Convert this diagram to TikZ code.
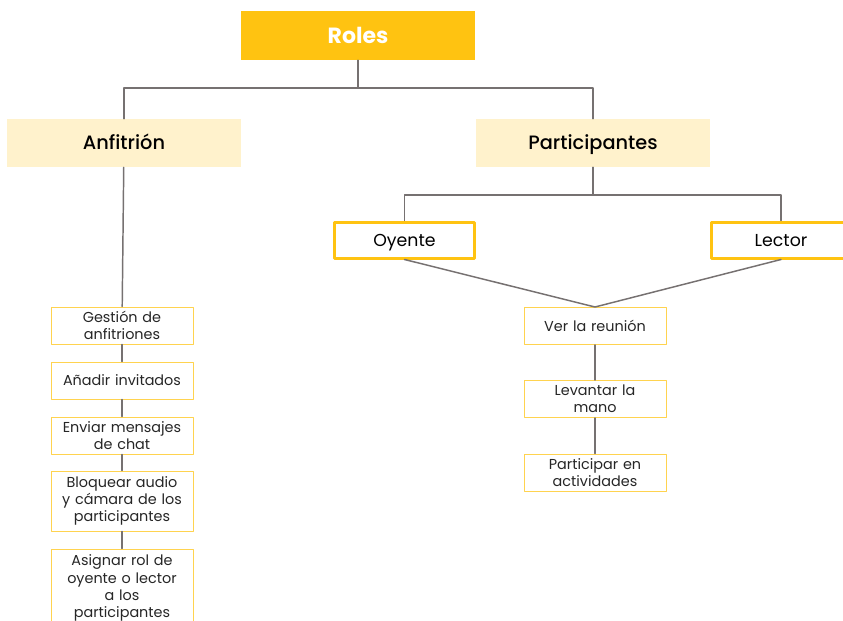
\documentclass[tikz,border=0pt]{standalone}
\usepackage{fontspec}
\setmainfont{Poppins}
\newfontfamily\popmed{Poppins Medium}
\definecolor{rolyellow}{HTML}{FFC311}
\definecolor{rolpale}{HTML}{FFF2CC}
\definecolor{rolline}{HTML}{767171}
\definecolor{roledge}{HTML}{FFD34F}
\begin{document}
\begin{tikzpicture}[x=0.75pt, y=-0.75pt, line join=round, line cap=round,
  link/.style={draw=rolline, line width=1.1pt},
  rolebox/.style={fill=rolyellow, minimum width=175.5pt, minimum height=36.75pt, inner sep=0pt,
    text=white, font=\fontsize{16.5}{19}\selectfont\bfseries},
  groupbox/.style={fill=rolpale, minimum width=175.5pt, minimum height=36pt, inner sep=0pt,
    text height=0.95em, text depth=0.05em, font=\fontsize{14.5}{17}\selectfont\popmed},
  kindbox/.style={draw=rolyellow, fill=white, line width=2.25pt, minimum width=105pt,
    minimum height=27pt, inner sep=0pt, text height=0.95em, text depth=0.05em,
    font=\fontsize{13}{15}\selectfont},
  taskbox/.style={draw=roledge, fill=white, line width=0.75pt, minimum width=106.5pt,
    minimum height=27.75pt, inner sep=1pt, text width=104pt, align=center,
    text=black!85, font=\fontsize{10.8}{12.9}\selectfont}]
 \clip (0,0) rectangle (843,621);
 \fill[white] (0,0) rectangle (843,621);
 \node[rolebox] (roles) at (358,35.5) {Roles};
 \node[groupbox] (anf) at (124,143) {Anfitrión};
 \node[groupbox] (part) at (593,143) {Participantes};
 \node[kindbox] (oy) at (404.5,240) {Oyente};
 \node[kindbox] (lec) at (781,240) {Lector};
 \node[taskbox] (ver) at (595,326) {Ver la reunión};
 \node[taskbox] (lev) at (595,399) {Levantar la\\mano};
 \node[taskbox] (act) at (595,472.5) {Participar en\\actividades};
 \node[taskbox] (g1) at (122,325.5) {Gestión de\\anfitriones};
 \node[taskbox] (g2) at (122,380.5) {Añadir invitados};
 \node[taskbox] (g3) at (122,435.5) {Enviar mensajes\\de chat};
 \node[taskbox, minimum height=45pt] (g4) at (122,501) {Bloquear audio\\y cámara de los\\participantes};
 \node[taskbox, minimum height=58.5pt] (g5) at (122,588) {Asignar rol de\\oyente o lector\\a los\\participantes};
 \coordinate (rj) at (358,88);
 \coordinate (pj) at (593,195);
 \draw[link] (roles) -- (rj) -| (anf);
 \draw[link] (rj) -| (part);
 \draw[link] (part) -- (pj) -| (oy);
 \draw[link] (pj) -| (lec);
 \draw[link] (oy.south) -- (ver.north) -- (lec.south);
 \foreach \a/\b in {ver/lev, lev/act, anf/g1, g1/g2, g2/g3, g3/g4, g4/g5}
 \draw[link] (\a) -- (\b);
\end{tikzpicture}
\end{document}
